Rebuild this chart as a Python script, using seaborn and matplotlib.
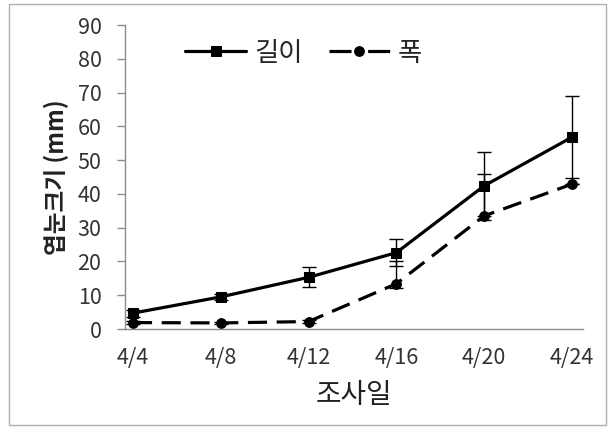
import matplotlib
matplotlib.use("Agg")
import matplotlib.pyplot as plt
import seaborn as sns
import numpy as np
import pandas as pd
from matplotlib.patches import Rectangle

# ---- data ----
dates = ["4/4", "4/8", "4/12", "4/16", "4/20", "4/24"]
length_vals = [4.7, 9.5, 15.3, 22.6, 42.4, 56.8]
length_err = [1.0, 1.0, 3.0, 4.0, 10.0, 12.2]
width_vals = [1.9, 1.8, 2.2, 13.4, 33.5, 42.9]
width_err_up = [0.5, 0.4, 0.5, 6.6, 12.4, 0.0]
width_err_lo = [0.5, 0.4, 0.5, 1.2, 0.0, 0.0]
series_names = ["길이", "폭"]

sns.set_theme(style="white")
plt.rcParams['font.family'] = ['Noto Sans CJK KR', 'DejaVu Sans']

df = pd.DataFrame({
    "idx": list(range(len(dates))) * 2,
    "value": length_vals + width_vals,
    "series": [series_names[0]] * len(dates) + [series_names[1]] * len(dates),
})

fig = plt.figure(figsize=(6.15, 4.29), dpi=100)
ax = fig.add_axes([125/615, 1-329/429, (583-125)/615, (329-25)/429])

# figure border
fig.patches.append(Rectangle((9/615, 4/429), (606-9)/615, (425-4)/429,
                             transform=fig.transFigure, fill=False,
                             edgecolor="#b0b0b0", linewidth=1.0))

sns.lineplot(data=df, x="idx", y="value", hue="series", style="series",
             palette=["black", "black"],
             dashes={series_names[0]: "", series_names[1]: (6, 3)},
             markers={series_names[0]: "s", series_names[1]: "o"},
             markersize=7, markeredgecolor="black", linewidth=2.3,
             ax=ax, legend=True)

idx = np.arange(len(dates))
ax.errorbar(idx, length_vals, yerr=length_err, fmt="none", ecolor="black",
            elinewidth=1.0, capsize=5, capthick=1.0, zorder=1)
ax.errorbar(idx, width_vals, yerr=[width_err_lo, width_err_up], fmt="none",
            ecolor="black", elinewidth=1.0, capsize=5, capthick=1.0, zorder=1)

ax.set_xlim(-0.09, 5.125)
ax.set_ylim(0, 90)
ax.set_yticks(range(0, 91, 10))
ax.set_xticks(idx)
ax.set_xticklabels(dates)

for s in ["top", "right"]:
    ax.spines[s].set_visible(False)
for s in ["left", "bottom"]:
    ax.spines[s].set_color("#8c8c8c")
    ax.spines[s].set_linewidth(1.0)

ax.tick_params(axis="y", which="major", direction="out", length=6, width=1,
               color="#8c8c8c", labelsize=15.5, labelcolor="#333333", pad=11, left=True)
ax.tick_params(axis="x", which="major", length=0, labelsize=15.5,
               labelcolor="#333333", pad=13)

ax.set_xlabel("조사일", fontsize=20, color="#222222", labelpad=8)
ax.set_ylabel("엽눈크기 (mm)", fontsize=17, fontweight="bold", color="#222222", labelpad=6)

leg = ax.legend(loc="upper left", bbox_to_anchor=(0.08, 1.03), ncol=2, frameon=False,
                fontsize=19, handlelength=2.3, columnspacing=1.0, handletextpad=0.3)
handles = leg.legend_handles
for h in handles:
    h.set_color("black")
    h.set_linewidth(2.3)
handles[1].set_dashes([6.9, 5.2])

fig.savefig("out.png", dpi=100)
